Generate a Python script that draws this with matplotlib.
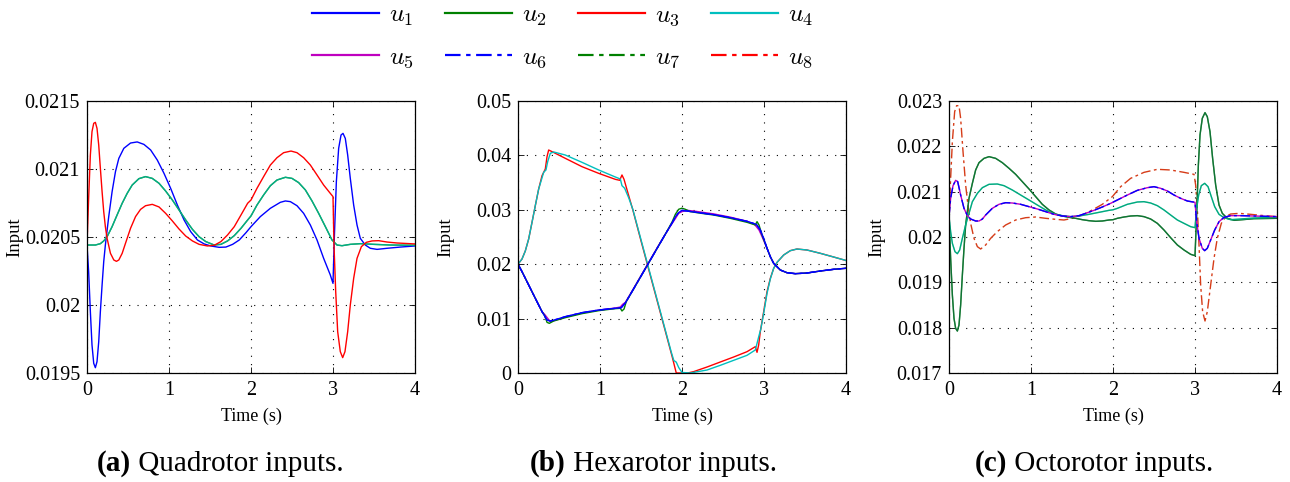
import numpy as np
import matplotlib
matplotlib.use("Agg")
import matplotlib.pyplot as plt
from matplotlib.lines import Line2D
from matplotlib.ticker import FormatStrFormatter

plt.rcParams['font.family'] = ['Liberation Serif', 'DejaVu Serif']
plt.rcParams['mathtext.fontset'] = 'cm'

# ---- quadrotor inputs (time s, input) ----
quad_u1 = [
    (0, 0.020441), (0.020, 0.020245), (0.041, 0.019951), (0.061, 0.019706), (0.082, 0.019571),
    (0.102, 0.019539), (0.122, 0.019583), (0.143, 0.019730), (0.163, 0.019951), (0.184, 0.020147),
    (0.204, 0.020319), (0.224, 0.020441), (0.265, 0.020650), (0.306, 0.020833), (0.347, 0.020980),
    (0.388, 0.021078), (0.449, 0.021152), (0.531, 0.021191), (0.612, 0.021199), (0.694, 0.021181),
    (0.776, 0.021140), (0.857, 0.021066), (0.939, 0.020968), (1.020, 0.020858), (1.102, 0.020735),
    (1.184, 0.020625), (1.265, 0.020539), (1.347, 0.020478), (1.429, 0.020449), (1.510, 0.020434),
    (1.612, 0.020424), (1.694, 0.020426), (1.776, 0.020446), (1.857, 0.020478), (1.939, 0.020532),
    (2.0, 0.020576), (2.114, 0.020650), (2.236, 0.020711), (2.358, 0.020755), (2.419, 0.020765),
    (2.480, 0.020760), (2.561, 0.020730), (2.642, 0.020674), (2.724, 0.020588), (2.805, 0.020478),
    (2.886, 0.020343), (2.967, 0.020221), (3.0, 0.020159), (3.016, 0.020490), (3.041, 0.020907),
    (3.069, 0.021152), (3.098, 0.021250), (3.122, 0.021262), (3.150, 0.021225), (3.179, 0.021103),
    (3.211, 0.020931), (3.252, 0.020735), (3.293, 0.020588), (3.333, 0.020490), (3.394, 0.020441),
    (3.455, 0.020417), (3.537, 0.020409), (3.659, 0.020417), (3.821, 0.020426), (4.0, 0.020434),
]
quad_u3 = [
    (0, 0.020441), (0.020, 0.020784), (0.041, 0.021103), (0.061, 0.021275), (0.082, 0.021336),
    (0.102, 0.021343), (0.122, 0.021299), (0.143, 0.021176), (0.163, 0.021005), (0.184, 0.020833),
    (0.204, 0.020686), (0.224, 0.020576), (0.245, 0.020490), (0.286, 0.020380), (0.327, 0.020331),
    (0.359, 0.020321), (0.388, 0.020331), (0.429, 0.020380), (0.469, 0.020453), (0.531, 0.020564),
    (0.592, 0.020650), (0.653, 0.020703), (0.714, 0.020730), (0.796, 0.020740), (0.878, 0.020721),
    (0.959, 0.020674), (1.041, 0.020618), (1.122, 0.020559), (1.204, 0.020507), (1.286, 0.020471),
    (1.367, 0.020446), (1.469, 0.020434), (1.551, 0.020439), (1.633, 0.020466), (1.714, 0.020515),
    (1.796, 0.020576), (1.878, 0.020662), (1.959, 0.020748), (2.0, 0.020772), (2.073, 0.020858),
    (2.154, 0.020944), (2.236, 0.021029), (2.317, 0.021083), (2.398, 0.021120), (2.488, 0.021132),
    (2.561, 0.021120), (2.642, 0.021083), (2.724, 0.021029), (2.805, 0.020956), (2.886, 0.020882),
    (2.967, 0.020821), (3.0, 0.020797), (3.012, 0.020441), (3.033, 0.020098), (3.057, 0.019804),
    (3.089, 0.019657), (3.118, 0.019613), (3.146, 0.019657), (3.179, 0.019804), (3.211, 0.020000),
    (3.252, 0.020196), (3.293, 0.020343), (3.346, 0.020429), (3.407, 0.020461), (3.476, 0.020471),
    (3.557, 0.020473), (3.659, 0.020463), (3.780, 0.020456), (4.0, 0.020449),
]
# u2 and u4 coincide
quad_u24 = [
    (0, 0.020441), (0.102, 0.020441), (0.163, 0.020451), (0.204, 0.020471), (0.245, 0.020502),
    (0.306, 0.020576), (0.367, 0.020662), (0.429, 0.020748), (0.490, 0.020821), (0.551, 0.020882),
    (0.633, 0.020929), (0.714, 0.020944), (0.796, 0.020931), (0.878, 0.020895), (0.959, 0.020838),
    (1.041, 0.020772), (1.122, 0.020699), (1.204, 0.020625), (1.286, 0.020556), (1.367, 0.020502),
    (1.449, 0.020466), (1.551, 0.020441), (1.633, 0.020446), (1.714, 0.020471), (1.796, 0.020510),
    (1.878, 0.020564), (1.959, 0.020625), (2.0, 0.020655), (2.073, 0.020735), (2.154, 0.020809),
    (2.236, 0.020877), (2.317, 0.020919), (2.419, 0.020939), (2.5, 0.020931), (2.581, 0.020900),
    (2.663, 0.020846), (2.744, 0.020765), (2.825, 0.020674), (2.907, 0.020576), (2.988, 0.020478),
    (3.049, 0.020441), (3.110, 0.020436), (3.211, 0.020446), (3.333, 0.020451), (3.496, 0.020446),
    (3.699, 0.020441), (4.0, 0.020439),
]

# ---- hexarotor inputs ----
hex_u1 = [
    (0, 0.0200), (0.049, 0.01863), (0.130, 0.01618), (0.211, 0.01373), (0.293, 0.01127),
    (0.354, 0.00974), (0.394, 0.00956), (0.455, 0.00980), (0.577, 0.01036), (0.780, 0.01109),
    (0.984, 0.01158), (1.187, 0.01189), (1.260, 0.01201), (1.309, 0.01288), (1.40, 0.0152),
    (1.50, 0.0178), (1.60, 0.0204), (1.70, 0.0230), (1.80, 0.0256), (1.88, 0.0276),
    (1.92, 0.0287), (1.96, 0.0295), (2.0, 0.0299), (2.142, 0.02960), (2.386, 0.02911),
    (2.589, 0.02855), (2.793, 0.02788), (2.907, 0.02733), (2.955, 0.02629), (2.996, 0.02475),
    (3.037, 0.02292), (3.077, 0.02138), (3.118, 0.02016), (3.199, 0.01893), (3.280, 0.01844),
    (3.382, 0.01826), (3.524, 0.01838), (3.687, 0.01875), (3.850, 0.01906), (4.0, 0.01925),
]
hex_u2 = [
    (0, 0.0200), (0.049, 0.01863), (0.130, 0.01618), (0.211, 0.01373), (0.293, 0.01127),
    (0.325, 0.01054), (0.354, 0.00931), (0.382, 0.00913), (0.435, 0.00956), (0.577, 0.01017),
    (0.780, 0.01091), (0.984, 0.01146), (1.187, 0.01183), (1.248, 0.01189), (1.268, 0.01140),
    (1.293, 0.01176), (1.320, 0.0131), (1.40, 0.0152), (1.50, 0.0178), (1.60, 0.0204),
    (1.70, 0.0230), (1.80, 0.0256), (1.88, 0.0278), (1.92, 0.0292), (1.96, 0.0301),
    (2.0, 0.0303), (2.041, 0.03009), (2.102, 0.02966), (2.236, 0.02935), (2.386, 0.02904),
    (2.589, 0.02843), (2.793, 0.02770), (2.894, 0.02721), (2.915, 0.02782), (2.939, 0.02721),
    (2.976, 0.02537), (3.037, 0.02292), (3.077, 0.02138), (3.118, 0.02016), (3.199, 0.01893),
    (3.280, 0.01844), (3.382, 0.01826), (3.524, 0.01838), (3.687, 0.01875), (3.850, 0.01906),
    (4.0, 0.01925),
]
hex_u3 = [
    (0, 0.0200), (0.049, 0.02096), (0.089, 0.02243), (0.130, 0.02463), (0.171, 0.02770),
    (0.211, 0.03076), (0.252, 0.03382), (0.293, 0.03627), (0.333, 0.03750), (0.354, 0.03977),
    (0.374, 0.04099), (0.415, 0.04069), (0.577, 0.03946), (0.780, 0.03793), (0.984, 0.03670),
    (1.187, 0.03560), (1.240, 0.03542), (1.268, 0.03640), (1.293, 0.03560), (1.329, 0.03370),
    (1.40, 0.0300), (1.50, 0.0243), (1.60, 0.0187), (1.70, 0.0131), (1.80, 0.0075),
    (1.88, 0.0030), (1.93, 0.0), (2.07, 0.0), (2.142, 0.00025), (2.305, 0.00110),
    (2.467, 0.00202), (2.630, 0.00294), (2.793, 0.00392), (2.894, 0.00484), (2.915, 0.00380),
    (2.935, 0.00515), (2.955, 0.00760), (2.996, 0.01127), (3.037, 0.01495), (3.077, 0.01740),
    (3.118, 0.01924), (3.159, 0.02034), (3.240, 0.02169), (3.321, 0.02249), (3.402, 0.02279),
    (3.524, 0.02261), (3.687, 0.02200), (3.850, 0.02132), (4.0, 0.02068),
]
hex_u4 = [
    (0, 0.0200), (0.049, 0.02096), (0.089, 0.02243), (0.130, 0.02463), (0.171, 0.02770),
    (0.211, 0.03076), (0.252, 0.03382), (0.313, 0.03689), (0.341, 0.03732), (0.362, 0.03885),
    (0.394, 0.04038), (0.435, 0.04063), (0.577, 0.04007), (0.780, 0.03873), (0.984, 0.03732),
    (1.187, 0.03603), (1.248, 0.03566), (1.268, 0.03444), (1.301, 0.03395), (1.350, 0.03220),
    (1.40, 0.0301), (1.50, 0.0245), (1.60, 0.0189), (1.70, 0.0133), (1.80, 0.0077),
    (1.87, 0.0038), (1.90, 0.0023), (1.93, 0.0020), (1.96, 0.0010), (2.0, 0.0001),
    (2.10, 0.0), (2.305, 0.00055), (2.467, 0.00141), (2.630, 0.00233), (2.793, 0.00325),
    (2.894, 0.00423), (2.915, 0.00545), (2.939, 0.00686), (2.963, 0.00821), (2.996, 0.01097),
    (3.037, 0.01464), (3.077, 0.01728), (3.118, 0.01924), (3.159, 0.02034), (3.240, 0.02169),
    (3.321, 0.02249), (3.402, 0.02279), (3.524, 0.02261), (3.687, 0.02200), (3.850, 0.02132),
    (4.0, 0.02068),
]
hex_u5 = [
    (0, 0.0200), (0.049, 0.01863), (0.130, 0.01618), (0.211, 0.01373), (0.293, 0.01127),
    (0.325, 0.01078), (0.362, 0.01005), (0.394, 0.00944), (0.455, 0.00970), (0.577, 0.01030),
    (0.780, 0.01103), (0.984, 0.01155), (1.187, 0.01195), (1.248, 0.01213), (1.276, 0.01262),
    (1.309, 0.01299), (1.40, 0.0153), (1.50, 0.0179), (1.60, 0.0205), (1.70, 0.0231),
    (1.80, 0.0256), (1.88, 0.0275), (1.92, 0.0284), (1.959, 0.02935), (2.0, 0.02966),
    (2.061, 0.02990), (2.142, 0.02978), (2.386, 0.02925), (2.589, 0.02865), (2.793, 0.02790),
    (2.880, 0.02735), (2.907, 0.02690), (2.939, 0.02629), (2.976, 0.02507), (3.037, 0.02292),
    (3.077, 0.02138), (3.118, 0.02016), (3.199, 0.01893), (3.280, 0.01844), (3.382, 0.01826),
    (3.524, 0.01838), (3.687, 0.01875), (3.850, 0.01906), (4.0, 0.01925),
]

# ---- octorotor inputs ----
oct_u27 = [
    (0, 0.020449), (0.020, 0.019529), (0.041, 0.018721), (0.061, 0.018206), (0.081, 0.017985),
    (0.102, 0.017926), (0.122, 0.018059), (0.142, 0.018500), (0.163, 0.019162), (0.183, 0.019750),
    (0.203, 0.020265), (0.244, 0.020853), (0.285, 0.021184), (0.325, 0.021478), (0.366, 0.021640),
    (0.427, 0.021735), (0.488, 0.021772), (0.569, 0.021735), (0.650, 0.021640), (0.732, 0.021515),
    (0.813, 0.021382), (0.894, 0.021221), (0.976, 0.021059), (1.057, 0.020890), (1.138, 0.020721),
    (1.220, 0.020596), (1.301, 0.020507), (1.382, 0.020463), (1.463, 0.020434), (1.545, 0.020412),
    (1.626, 0.020382), (1.707, 0.020360), (1.789, 0.020346), (1.870, 0.020353), (1.951, 0.020375),
    (2.0, 0.020382), (2.053, 0.020412), (2.134, 0.020441), (2.215, 0.020463), (2.297, 0.020471),
    (2.378, 0.020449), (2.459, 0.020397), (2.541, 0.020301), (2.622, 0.020154), (2.703, 0.019985),
    (2.785, 0.019824), (2.866, 0.019713), (2.947, 0.019618), (3.0, 0.019588), (3.020, 0.020485),
    (3.041, 0.021588), (3.061, 0.022250), (3.089, 0.022618), (3.122, 0.022743), (3.150, 0.022654),
    (3.183, 0.022324), (3.215, 0.021735), (3.252, 0.021147), (3.293, 0.020706), (3.333, 0.020522),
    (3.394, 0.020412), (3.476, 0.020368), (3.577, 0.020382), (3.720, 0.020404), (4.0, 0.020412),
]
oct_u34 = [
    (0, 0.020449), (0.020, 0.020118), (0.041, 0.019860), (0.073, 0.019676), (0.102, 0.019632),
    (0.130, 0.019713), (0.163, 0.019971), (0.203, 0.020265), (0.244, 0.020522), (0.285, 0.020779),
    (0.346, 0.020963), (0.407, 0.021088), (0.488, 0.021162), (0.589, 0.021169), (0.671, 0.021132),
    (0.772, 0.021037), (0.874, 0.020926), (0.976, 0.020816), (1.077, 0.020706), (1.179, 0.020596),
    (1.280, 0.020507), (1.382, 0.020471), (1.484, 0.020449), (1.585, 0.020463), (1.707, 0.020500),
    (1.829, 0.020544), (1.951, 0.020588), (2.0, 0.020600), (2.053, 0.020632), (2.175, 0.020721),
    (2.297, 0.020772), (2.378, 0.020779), (2.459, 0.020750), (2.541, 0.020691), (2.622, 0.020596),
    (2.703, 0.020485), (2.785, 0.020375), (2.866, 0.020301), (2.947, 0.020228), (3.0, 0.020206),
    (3.020, 0.020632), (3.045, 0.020926), (3.077, 0.021132), (3.118, 0.021184), (3.159, 0.021110),
    (3.199, 0.020890), (3.240, 0.020669), (3.293, 0.020500), (3.354, 0.020426), (3.435, 0.020382),
    (3.557, 0.020397), (3.720, 0.020419), (4.0, 0.020434),
]
oct_u156 = [
    (0, 0.020449), (0.020, 0.020853), (0.049, 0.021132), (0.081, 0.021250), (0.106, 0.021221),
    (0.142, 0.020926), (0.183, 0.020632), (0.224, 0.020471), (0.264, 0.020397), (0.325, 0.020353),
    (0.366, 0.020353), (0.407, 0.020397), (0.447, 0.020485), (0.528, 0.020632), (0.610, 0.020721),
    (0.691, 0.020757), (0.772, 0.020750), (0.874, 0.020721), (0.976, 0.020669), (1.077, 0.020618),
    (1.179, 0.020559), (1.280, 0.020500), (1.382, 0.020463), (1.484, 0.020449), (1.585, 0.020471),
    (1.667, 0.020522), (1.768, 0.020588), (1.870, 0.020662), (1.972, 0.020743), (2.053, 0.020816),
    (2.175, 0.020926), (2.297, 0.021029), (2.419, 0.021088), (2.500, 0.021110), (2.581, 0.021074),
    (2.663, 0.021015), (2.744, 0.020926), (2.825, 0.020853), (2.907, 0.020794), (3.0, 0.020765),
    (3.020, 0.020338), (3.049, 0.019971), (3.089, 0.019750), (3.118, 0.019699), (3.150, 0.019750),
    (3.191, 0.019934), (3.240, 0.020154), (3.293, 0.020338), (3.354, 0.020434), (3.435, 0.020471),
    (3.557, 0.020471), (3.720, 0.020463), (4.0, 0.020449),
]
oct_u8 = [
    (0, 0.020449), (0.020, 0.021294), (0.041, 0.022103), (0.069, 0.022765), (0.093, 0.022897),
    (0.122, 0.022897), (0.142, 0.022618), (0.171, 0.021882), (0.203, 0.021147), (0.236, 0.020632),
    (0.264, 0.020301), (0.305, 0.019971), (0.346, 0.019787), (0.386, 0.019735), (0.447, 0.019824),
    (0.508, 0.019971), (0.589, 0.020118), (0.691, 0.020265), (0.813, 0.020375), (0.935, 0.020426),
    (1.057, 0.020441), (1.179, 0.020412), (1.301, 0.020390), (1.402, 0.020375), (1.504, 0.020412),
    (1.626, 0.020485), (1.748, 0.020596), (1.870, 0.020721), (1.992, 0.020890), (2.093, 0.021110),
    (2.215, 0.021294), (2.378, 0.021426), (2.541, 0.021493), (2.703, 0.021478), (2.866, 0.021426),
    (2.988, 0.021382), (3.008, 0.021147), (3.028, 0.020632), (3.049, 0.019824), (3.069, 0.018941),
    (3.093, 0.018353), (3.122, 0.018147), (3.150, 0.018353), (3.191, 0.018941), (3.232, 0.019529),
    (3.272, 0.019971), (3.321, 0.020301), (3.374, 0.020449), (3.435, 0.020507), (3.537, 0.020522),
    (3.679, 0.020500), (3.841, 0.020471), (4.0, 0.020449),
]

labels = [r'$u_{%d}$' % i for i in range(1, 9)]
colors = ['b', 'g', 'r', 'c', 'm', 'b', 'g', 'r']
DASHDOT = (7, 2.5, 2, 2.5)


def draw(ax, pts, color, dashdot=False, **kw):
    pts = np.asarray(pts)
    line, = ax.plot(pts[:, 0], pts[:, 1], color=color, lw=1.0, **kw)
    if dashdot:
        line.set_dashes(DASHDOT)
    return line


def style(ax, ylim, yticks):
    ax.set_xlim(0, 4)
    ax.set_ylim(*ylim)
    ax.set_xticks([0, 1, 2, 3, 4])
    ax.set_yticks(yticks)
    ax.yaxis.set_major_formatter(FormatStrFormatter('%g'))
    ax.grid(True, color='k', linestyle=(0, (1, 6.5)), linewidth=0.8)
    ax.tick_params(direction='in', top=True, right=True, labelsize=14.5,
                   length=4, width=0.6)
    ax.tick_params(axis='x', pad=6)
    ax.tick_params(axis='y', pad=5)
    for s in ax.spines.values():
        s.set_linewidth(0.9)
    ax.set_xlabel('Time (s)', fontsize=13, va='center')
    ax.set_ylabel('Input', fontsize=13.5, va='center')
    ax.xaxis.set_label_coords(0.5, -0.16)
    ax.yaxis.set_label_coords(-72 / 328, 0.5)


fig = plt.figure(figsize=(12.9, 4.82), dpi=100)
W, H = 1290, 482
ax_a = fig.add_axes([87 / W, 1 - 373 / H, 328 / W, 272 / H])
ax_b = fig.add_axes([518 / W, 1 - 373 / H, 328 / W, 272 / H])
ax_c = fig.add_axes([949 / W, 1 - 373 / H, 328 / W, 272 / H])

# (a) quadrotor
draw(ax_a, quad_u1, 'b')
draw(ax_a, quad_u24, 'g')
draw(ax_a, quad_u24, 'c', alpha=0.7)
draw(ax_a, quad_u3, 'r')
style(ax_a, (0.0195, 0.0215), [0.0195, 0.02, 0.0205, 0.021, 0.0215])

# (b) hexarotor
draw(ax_b, hex_u3, 'r')
draw(ax_b, hex_u4, 'c')
draw(ax_b, hex_u5, 'm')
draw(ax_b, hex_u2, 'g')
draw(ax_b, hex_u1, 'b')
draw(ax_b, hex_u1, 'b', dashdot=True)
style(ax_b, (0, 0.05), [0, 0.01, 0.02, 0.03, 0.04, 0.05])

# (c) octorotor
draw(ax_c, oct_u8, '#d63c18', dashdot=True)
draw(ax_c, oct_u27, 'g')
draw(ax_c, oct_u27, '#1a6a5a', alpha=0.6)
draw(ax_c, oct_u34, 'c')
draw(ax_c, oct_u34, 'g', alpha=0.35)
draw(ax_c, oct_u156, 'm')
draw(ax_c, oct_u156, 'b', dashdot=True)
style(ax_c, (0.017, 0.023), [0.017, 0.018, 0.019, 0.02, 0.021, 0.022, 0.023])

# shared legend, filled row by row
handles = []
for i in range(8):
    h = Line2D([], [], color=colors[i], lw=1.6)
    if i >= 5:
        h.set_dashes(DASHDOT)
    handles.append(h)
order = [0, 4, 1, 5, 2, 6, 3, 7]
fig.legend([handles[i] for i in order], [labels[i] for i in order],
           ncol=4, loc='center', bbox_to_anchor=(563 / W, 1 - 37 / H),
           frameon=False, fontsize=18.5, handlelength=2.6, handletextpad=0.4,
           columnspacing=1.2, labelspacing=0.7)

# sub-captions
captions = [('(a)', ' Quadrotor inputs.', 97), ('(b)', ' Hexarotor inputs.', 530),
            ('(c)', ' Octorotor inputs.', 975)]
for tag, text, x in captions:
    t = fig.text(x / W, 1 - 471 / H, tag, fontsize=21, fontweight='bold',
                 ha='left', va='baseline')
    ax_a.annotate(text, xy=(1, 0), xycoords=t, fontsize=21, ha='left',
                  va='bottom', annotation_clip=False)

fig.savefig('out.png', dpi=100)
